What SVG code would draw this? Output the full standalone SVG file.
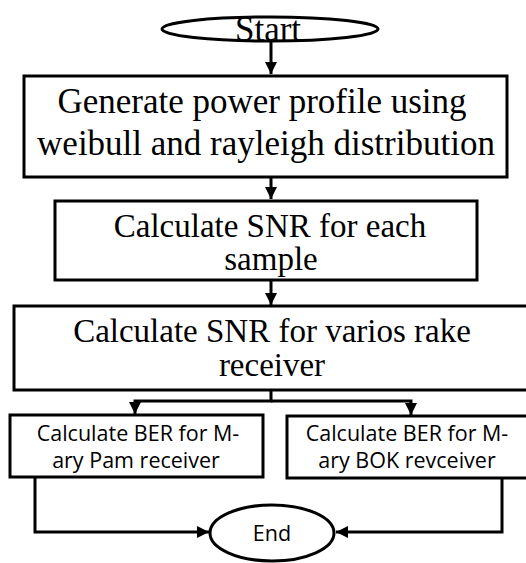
<svg xmlns="http://www.w3.org/2000/svg" width="526" height="563" viewBox="0 0 526 563">
<style>
.box{fill:#fff;stroke:#000;stroke-width:3}
.ser{font-family:"Liberation Serif",serif;font-size:35px;fill:#000;text-anchor:middle}
.tight{font-size:33px}
.san{font-family:"Open Sans","Liberation Sans",sans-serif;font-size:21.5px;fill:#000;text-anchor:middle}
.con{fill:none;stroke:#000;stroke-width:3}
</style>
<defs>
<marker id="ah" viewBox="0 0 10 10" refX="10" refY="5" markerWidth="4" markerHeight="4" orient="auto" markerUnits="strokeWidth">
<path d="M0,0 L10,5 L0,10 z" fill="#000"/>
</marker>
</defs>
<rect width="526" height="563" fill="#fff"/>
<g id="connectors">
<line class="con" x1="271" y1="42" x2="271" y2="74" marker-end="url(#ah)"/>
<line class="con" x1="271" y1="178" x2="271" y2="199" marker-end="url(#ah)"/>
<line class="con" x1="271" y1="281" x2="271" y2="305" marker-end="url(#ah)"/>
<polyline class="con" points="271,390 271,401 135,401 135,414" marker-end="url(#ah)"/>
<polyline class="con" points="271,401 411,401 411,415" marker-end="url(#ah)"/>
<polyline class="con" points="35,478 35,532 209,532" marker-end="url(#ah)"/>
<polyline class="con" points="502,479 502,532 336,532" marker-end="url(#ah)"/>
</g>
<g id="start">
<ellipse class="box" cx="270" cy="29" rx="108" ry="12"/>
<text class="ser" x="268" y="41">Start</text>
</g>
<g id="generate">
<rect class="box" x="24" y="76" width="483" height="101"/>
<text class="ser" x="262" y="113">Generate power profile using</text>
<text class="ser" x="266" y="155">weibull and rayleigh distribution</text>
</g>
<g id="snr-sample">
<rect class="box" x="55" y="201" width="422" height="79"/>
<text class="ser tight" x="270" y="237">Calculate SNR for each</text>
<text class="ser tight" x="271" y="270">sample</text>
</g>
<g id="snr-rake">
<rect class="box" x="14" y="306" width="520" height="84"/>
<text class="ser tight" x="272" y="342">Calculate SNR for varios rake</text>
<text class="ser tight" x="272" y="376">receiver</text>
</g>
<g id="ber-pam">
<rect class="box" x="10" y="415" width="253" height="62"/>
<text class="san" x="138" y="441">Calculate BER for M-</text>
<text class="san" x="136" y="468">ary Pam receiver</text>
</g>
<g id="ber-bok">
<rect class="box" x="287" y="416" width="250" height="62"/>
<text class="san" x="407" y="441">Calculate BER for M-</text>
<text class="san" x="407" y="468">ary BOK revceiver</text>
</g>
<g id="end">
<ellipse class="box" cx="272" cy="533" rx="62" ry="28"/>
<text class="san" x="272" y="541">End</text>
</g>
</svg>
